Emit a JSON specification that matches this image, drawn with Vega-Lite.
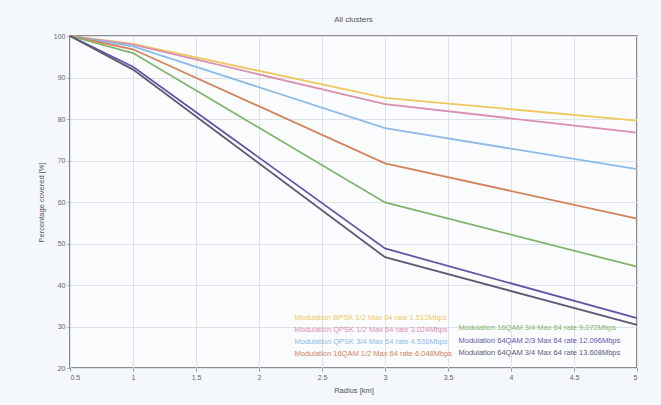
{
  "$schema": "https://vega.github.io/schema/vega-lite/v6.json",
  "width": 567,
  "height": 332,
  "autosize": {"type": "none"},
  "padding": {"left": 70, "top": 36, "right": 24, "bottom": 37},
  "background": "#f4f7fb",
  "title": {"text": "All clusters", "fontSize": 8, "fontWeight": "normal", "color": "#555555", "font": "Liberation Sans", "offset": 8},
  "config": {
    "view": {"stroke": "#8c8c8c", "strokeWidth": 2, "fill": "#fbfcfe"},
    "axis": {"labelFont": "Liberation Sans", "titleFont": "Liberation Sans", "labelFontSize": 7, "titleFontSize": 7.5, "labelColor": "#666666", "titleColor": "#555555", "titleFontWeight": "normal", "gridColor": "#dde2e8", "gridWidth": 1, "domain": false, "tickColor": "#999999", "tickSize": 3},
    "legend": {"labelFont": "Liberation Sans"}
  },
  "data": {"values": [
    {"series": "Modulation BPSK 1/2 Max 64 rate 1.512Mbps", "radius": 0.5, "coverage": 100},
    {"series": "Modulation BPSK 1/2 Max 64 rate 1.512Mbps", "radius": 1, "coverage": 98.1},
    {"series": "Modulation BPSK 1/2 Max 64 rate 1.512Mbps", "radius": 3, "coverage": 85.1},
    {"series": "Modulation BPSK 1/2 Max 64 rate 1.512Mbps", "radius": 5, "coverage": 79.6},
    {"series": "Modulation QPSK 1/2 Max 64 rate 3.024Mbps", "radius": 0.5, "coverage": 100},
    {"series": "Modulation QPSK 1/2 Max 64 rate 3.024Mbps", "radius": 1, "coverage": 97.9},
    {"series": "Modulation QPSK 1/2 Max 64 rate 3.024Mbps", "radius": 3, "coverage": 83.6},
    {"series": "Modulation QPSK 1/2 Max 64 rate 3.024Mbps", "radius": 5, "coverage": 76.7},
    {"series": "Modulation QPSK 3/4 Max 64 rate 4.536Mbps", "radius": 0.5, "coverage": 100},
    {"series": "Modulation QPSK 3/4 Max 64 rate 4.536Mbps", "radius": 1, "coverage": 97.5},
    {"series": "Modulation QPSK 3/4 Max 64 rate 4.536Mbps", "radius": 3, "coverage": 77.8},
    {"series": "Modulation QPSK 3/4 Max 64 rate 4.536Mbps", "radius": 5, "coverage": 67.9},
    {"series": "Modulation 16QAM 1/2 Max 64 rate 6.048Mbps", "radius": 0.5, "coverage": 100},
    {"series": "Modulation 16QAM 1/2 Max 64 rate 6.048Mbps", "radius": 1, "coverage": 96.8},
    {"series": "Modulation 16QAM 1/2 Max 64 rate 6.048Mbps", "radius": 3, "coverage": 69.3},
    {"series": "Modulation 16QAM 1/2 Max 64 rate 6.048Mbps", "radius": 5, "coverage": 56.0},
    {"series": "Modulation 16QAM 3/4 Max 64 rate 9.072Mbps", "radius": 0.5, "coverage": 100},
    {"series": "Modulation 16QAM 3/4 Max 64 rate 9.072Mbps", "radius": 1, "coverage": 95.9},
    {"series": "Modulation 16QAM 3/4 Max 64 rate 9.072Mbps", "radius": 3, "coverage": 59.9},
    {"series": "Modulation 16QAM 3/4 Max 64 rate 9.072Mbps", "radius": 5, "coverage": 44.4},
    {"series": "Modulation 64QAM 2/3 Max 64 rate 12.096Mbps", "radius": 0.5, "coverage": 100},
    {"series": "Modulation 64QAM 2/3 Max 64 rate 12.096Mbps", "radius": 1, "coverage": 92.6},
    {"series": "Modulation 64QAM 2/3 Max 64 rate 12.096Mbps", "radius": 3, "coverage": 48.8},
    {"series": "Modulation 64QAM 2/3 Max 64 rate 12.096Mbps", "radius": 5, "coverage": 32.0},
    {"series": "Modulation 64QAM 3/4 Max 64 rate 13.608Mbps", "radius": 0.5, "coverage": 100},
    {"series": "Modulation 64QAM 3/4 Max 64 rate 13.608Mbps", "radius": 1, "coverage": 91.9},
    {"series": "Modulation 64QAM 3/4 Max 64 rate 13.608Mbps", "radius": 3, "coverage": 46.7},
    {"series": "Modulation 64QAM 3/4 Max 64 rate 13.608Mbps", "radius": 5, "coverage": 30.4}
  ]},
  "encoding": {
    "x": {"field": "radius", "type": "quantitative", "title": "Radius [km]",
          "scale": {"domain": [0.5, 5], "nice": false, "zero": false},
          "axis": {"values": [0.5, 1, 1.5, 2, 2.5, 3, 3.5, 4, 4.5, 5], "format": "~g", "titlePadding": 6}},
    "y": {"field": "coverage", "type": "quantitative", "title": "Percentage covered [%]",
          "scale": {"domain": [20, 100], "nice": false, "zero": false},
          "axis": {"values": [20, 30, 40, 50, 60, 70, 80, 90, 100], "titlePadding": 8}}
  },
  "layer": [
    {
      "transform": [{"filter": "indexof(['Modulation BPSK 1/2 Max 64 rate 1.512Mbps','Modulation QPSK 1/2 Max 64 rate 3.024Mbps','Modulation QPSK 3/4 Max 64 rate 4.536Mbps','Modulation 16QAM 1/2 Max 64 rate 6.048Mbps'], datum.series) >= 0"}],
      "mark": {"type": "line", "strokeWidth": 1.8},
      "encoding": {
        "color": {"field": "series", "type": "nominal",
          "scale": {"domain": ["Modulation BPSK 1/2 Max 64 rate 1.512Mbps", "Modulation QPSK 1/2 Max 64 rate 3.024Mbps", "Modulation QPSK 3/4 Max 64 rate 4.536Mbps", "Modulation 16QAM 1/2 Max 64 rate 6.048Mbps"],
                    "range": ["#f0c860", "#d98fb0", "#8cbbe8", "#d4825a"]},
          "legend": {"title": null, "orient": "none", "legendX": 217, "legendY": 278, "symbolSize": 0, "symbolOpacity": 0, "labelFontSize": 7.5, "labelLimit": 400, "rowPadding": 3.2, "labelOffset": 0, "labelColor": {"expr": "scale('color', datum.value)"}}}
      }
    },
    {
      "transform": [{"filter": "indexof(['Modulation 16QAM 3/4 Max 64 rate 9.072Mbps','Modulation 64QAM 2/3 Max 64 rate 12.096Mbps','Modulation 64QAM 3/4 Max 64 rate 13.608Mbps'], datum.series) >= 0"}],
      "mark": {"type": "line", "strokeWidth": 1.8},
      "encoding": {
        "stroke": {"field": "series", "type": "nominal",
          "scale": {"domain": ["Modulation 16QAM 3/4 Max 64 rate 9.072Mbps", "Modulation 64QAM 2/3 Max 64 rate 12.096Mbps", "Modulation 64QAM 3/4 Max 64 rate 13.608Mbps"],
                    "range": ["#80b46c", "#6454a8", "#5a5a74"]},
          "legend": {"title": null, "orient": "none", "legendX": 381, "legendY": 288.7, "symbolSize": 0, "symbolOpacity": 0, "labelFontSize": 7.5, "labelLimit": 400, "rowPadding": 3.2, "labelOffset": 0, "labelColor": {"expr": "scale('stroke', datum.value)"}}}
      }
    }
  ]
}
